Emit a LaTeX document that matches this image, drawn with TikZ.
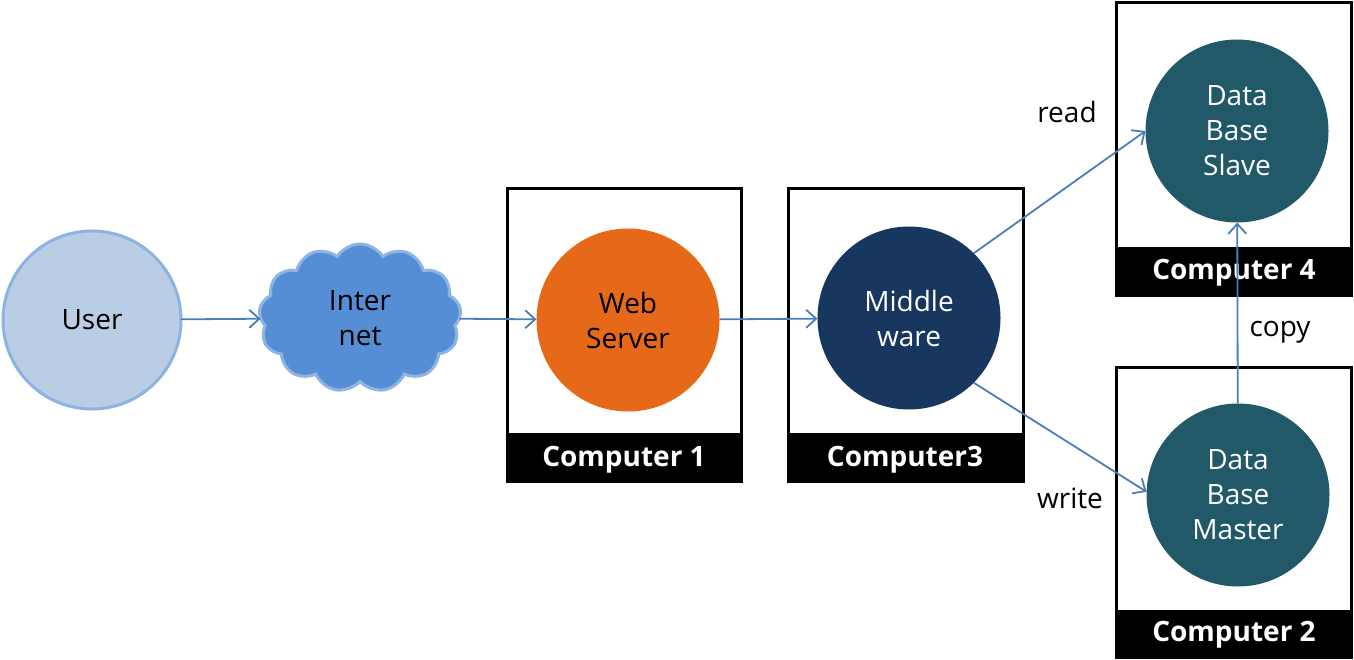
\documentclass[tikz,border=0pt]{standalone}
\usepackage{fontspec}
\setmainfont{Open Sans}
\usetikzlibrary{shapes.symbols,arrows.meta}
\definecolor{userfill}{HTML}{B9CDE5}
\definecolor{userdraw}{HTML}{8DB3E2}
\definecolor{cloudfill}{HTML}{558ED5}
\definecolor{clouddraw}{HTML}{8EB4E3}
\definecolor{webfill}{HTML}{E6691A}
\definecolor{midfill}{HTML}{17375E}
\definecolor{dbfill}{HTML}{215968}
\definecolor{linkblue}{HTML}{4A7EBB}
\tikzset{
  ball/.style={circle, minimum size=183pt, inner sep=0pt, outer sep=0pt, align=center, font=\fontsize{28}{35}\selectfont},
  link/.style={-{Straight Barb[length=10pt,width=18pt]}, line width=1.8pt, draw=linkblue},
  pcbox/.style={line width=3pt},
  pclabel/.style={text=white, font=\fontsize{28}{30}\selectfont\bfseries},
  tag/.style={font=\fontsize{28}{30}\selectfont}
}
\begin{document}
\begin{tikzpicture}[x=1pt,y=-1pt]
  \useasboundingbox (0,0) rectangle (1354,660);
  \begin{scope}
    % computer boxes
    \draw[pcbox] (507,189) rectangle (741,481);
    \fill (507,433) rectangle (741,481);
    \draw[pcbox] (788,189) rectangle (1023,481);
    \fill (788,433) rectangle (1023,481);
    \draw[pcbox] (1116,3) rectangle (1351,295);
    \fill (1116,247) rectangle (1351,295);
    \draw[pcbox] (1116,367) rectangle (1351,657);
    \fill (1116,610) rectangle (1351,657);
    \node[pclabel] (pc1) at (624,460) {Computer 1};
    \node[pclabel] (pc3) at (905,460) {Computer3};
    \node[pclabel] (pc4) at (1234,273) {Computer 4};
    \node[pclabel] (pc2) at (1234,635) {Computer 2};
  \end{scope}

  \node[ball, fill=userfill, draw=userdraw, line width=3pt, minimum size=178pt] (user) at (92,320) {User};
  \node[cloud, cloud puffs=13, cloud puff arc=115, aspect=1.35, minimum width=202pt, minimum height=148pt,
        inner sep=0pt, outer sep=0pt, fill=cloudfill, draw=clouddraw, line width=3pt,
        align=center, font=\fontsize{28}{35}\selectfont] (net) at (360,318) {Inter\\net};
  \node[ball, fill=webfill] (web) at (628,320) {Web\\Server};
  \node[ball, fill=midfill, text=white] (mid) at (909,318) {Middle\\ware};
  \node[ball, fill=dbfill, text=white] (slave) at (1237,131) {Data\\Base\\Slave};
  \node[ball, fill=dbfill, text=white] (master) at (1238,495) {Data\\Base\\Master};

  \draw[link] (user) -- (net);
  \draw[link] (net) -- (web);
  \draw[link] (web) -- (mid);
  \draw[link] (mid.45) -- (slave.180);
  \draw[link] (mid.-45) -- (master.178);
  \draw[link] (master) -- (slave);

  \node[tag] (read) at (1067,112) {read};
  \node[tag] (write) at (1070,498) {write};
  \node[tag] (copy) at (1280,332) {copy};
\end{tikzpicture}
\end{document}
